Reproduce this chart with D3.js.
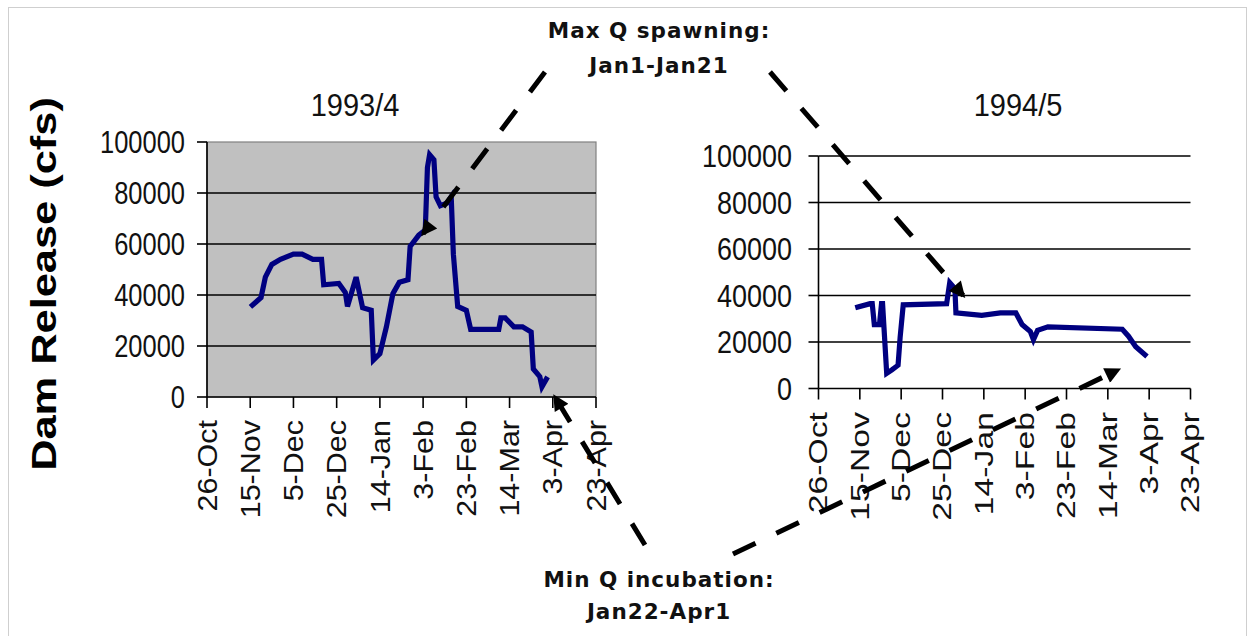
<!DOCTYPE html>
<html><head><meta charset="utf-8">
<script src="https://cdn.jsdelivr.net/npm/d3@7"></script>
<style>body{margin:0;background:#fff;overflow:hidden}</style>
</head><body><svg id="c" width="1253" height="636"></svg>
<script>
// ---------- data ----------
const tickDays = [0,20,40,60,80,100,120,140,160,180];           // days after 26-Oct
const tickLabels = ["26-Oct","15-Nov","5-Dec","25-Dec","14-Jan","3-Feb","23-Feb","14-Mar","3-Apr","23-Apr"];
const yTicks = [0,20000,40000,60000,80000,100000];
const panelTitles = ["1993/4","1994/5"];
const yTitle = "Dam Release (cfs)";

const days9394 = [21,25,27,30,34,40,44,49,53,54,61,64,65,69,72,76,77,80,83,86,89,93,94,98,101,102,103,105,106,108,111,113,114,116,120,122,135,136,138,142,146,150,151,154,155,157];
const flow9394 = [36000,39000,47000,52000,54000,56000,56000,54000,54000,44000,44500,41000,35500,47000,35000,34000,14500,17000,27500,40500,45000,46000,59000,63500,65500,90000,95000,93000,78500,75000,76000,78500,56000,35500,34000,26500,26500,31000,31000,27500,27500,25500,11000,8000,4000,7000];

const days9495 = [19,25,26,27,29.5,30.5,31,33,35.5,38.5,39.5,41,62,63.5,66,66.5,79,88,95.5,98.5,102.5,104,106,111,147,150,153.5,158];
const flow9495 = [35000,36500,36500,27500,27500,36500,36500,6500,8000,10000,22000,36000,36500,45500,43000,32500,31500,32500,32500,27500,24500,21000,25000,26500,25500,22500,18000,14500];

const noteMax = ["Max Q spawning:","Jan1-Jan21"];
const noteMin = ["Min Q incubation:","Jan22-Apr1"];
// arrow targets in data space: [panel, day, flow]
const maxTargets = [[0,100,64000],[1,70,40000]];
const minTargets = [[0,161,0],[1,145,8000]];

// ---------- layout ----------
const svg = d3.select("#c");
svg.append("rect").attr("x",8.5).attr("y",7.5).attr("width",1238).attr("height",640)
  .attr("fill","#fff").attr("stroke","#cfcfcf");

const panels = [
  {x0:207,x1:596,y0:397,y1:142,bg:"#c0c0c0",border:"#808080",gridFrom:1,gridTo:4,
   yl:{x:185,f:26,sx:0.98,sy:1.18}, xl:{top:420,f:27,s:1.13}, title:{x:355,y:116},
   days:days9394, flow:flow9394},
  {x0:818.5,x1:1190.5,y0:388.5,y1:156,bg:"none",border:"none",gridFrom:1,gridTo:5,
   yl:{x:792,f:27,sx:1.0,sy:1.15}, xl:{top:412,f:25,s:1.35}, title:{x:1018,y:116},
   days:days9495, flow:flow9495}
];

function stext(g, str, x, y, o){
  return g.append("text")
    .attr("transform",`translate(${x},${y}) rotate(${o.rot||0}) scale(${o.sx||1},${o.sy||1})`)
    .attr("text-anchor",o.anchor||"start")
    .attr("font-family",o.family||"'Liberation Sans', Arial, sans-serif")
    .attr("font-size",o.f)
    .attr("font-weight",o.weight||"normal")
    .attr("letter-spacing",o.ls||0)
    .attr("fill",o.fill||"#111")
    .text(str);
}

panels.forEach((p,i)=>{
  const g = svg.append("g");
  const x = d3.scaleLinear().domain([0,180]).range([p.x0,p.x1]);
  const y = d3.scaleLinear().domain([0,100000]).range([p.y0,p.y1]);
  p.x = x; p.y = y;
  if(p.bg!=="none"){
    g.append("rect").attr("x",p.x0).attr("y",p.y1).attr("width",p.x1-p.x0).attr("height",p.y0-p.y1)
      .attr("fill",p.bg).attr("stroke",p.border).attr("stroke-width",1.2);
  }
  // gridlines
  yTicks.slice(p.gridFrom,p.gridTo+1).forEach(v=>{
    g.append("line").attr("x1",p.x0).attr("x2",p.x1).attr("y1",y(v)).attr("y2",y(v))
      .attr("stroke","#000").attr("stroke-width",1.6);
  });
  // axes lines
  g.append("line").attr("x1",p.x0).attr("x2",p.x0).attr("y1",p.y0).attr("y2",y(100000))
    .attr("stroke","#000").attr("stroke-width",1.6);
  g.append("line").attr("x1",p.x0).attr("x2",p.x1).attr("y1",p.y0).attr("y2",p.y0)
    .attr("stroke","#000").attr("stroke-width",1.6);
  // y ticks + labels
  yTicks.forEach(v=>{
    g.append("line").attr("x1",p.x0-10).attr("x2",p.x0).attr("y1",y(v)).attr("y2",y(v))
      .attr("stroke","#000").attr("stroke-width",1.6);
    const o = p.yl;
    stext(g, String(v), o.x, y(v)+0.716*o.f*o.sy/2, {f:o.f,sx:o.sx,sy:o.sy,anchor:"end"});
  });
  // x ticks + labels
  tickDays.forEach((d,k)=>{
    g.append("line").attr("x1",x(d)).attr("x2",x(d)).attr("y1",p.y0).attr("y2",p.y0+11)
      .attr("stroke","#000").attr("stroke-width",1.6);
    const o = p.xl;
    stext(g, tickLabels[k], x(d)+0.716*o.f/2, o.top, {f:o.f,rot:-90,sx:o.s,anchor:"end"});
  });
  // title
  stext(g, panelTitles[i], p.title.x, p.title.y, {f:29,sy:1.08,anchor:"middle"});
  // series
  const pts = p.days.map((d,k)=>[d,p.flow[k]]);
  g.append("path").datum(pts)
    .attr("d", d3.line().x(d=>x(d[0])).y(d=>y(d[1])))
    .attr("fill","none").attr("stroke","#000080").attr("stroke-width",5.2)
    .attr("stroke-linejoin","miter").attr("stroke-linecap","square");
});

// y-axis title
stext(svg, yTitle, 56, 284, {f:35,rot:-90,sx:1.24,anchor:"middle",weight:"bold",fill:"#000"});

// annotations
const defs = svg.append("defs");
defs.append("marker").attr("id","arr").attr("viewBox","0 0 10 10").attr("refX",8).attr("refY",5)
  .attr("markerWidth",18).attr("markerHeight",16).attr("markerUnits","userSpaceOnUse")
  .attr("orient","auto")
  .append("path").attr("d","M0,0 L10,5 L0,10 z").attr("fill","#000");

const noteFont = {family:"'DejaVu Sans', Verdana, sans-serif", weight:"bold", f:21.5, ls:1, anchor:"middle", fill:"#111"};
stext(svg, noteMax[0], 659, 38, noteFont);
stext(svg, noteMax[1], 659, 73, noteFont);
stext(svg, noteMin[0], 659, 587, noteFont);
stext(svg, noteMin[1], 659, 619, noteFont);

const maxStarts = [[545,72],[770,72]];
const minStarts = [[645,545],[733,554]];
function arrow(start, t){
  const p = panels[t[0]];
  svg.append("line").attr("x1",start[0]).attr("y1",start[1])
    .attr("x2",p.x(t[1])).attr("y2",p.y(t[2]))
    .attr("stroke","#000").attr("stroke-width",5).attr("stroke-dasharray","25,23")
    .attr("marker-end","url(#arr)");
}
maxTargets.forEach((t,k)=>arrow(maxStarts[k],t));
minTargets.forEach((t,k)=>arrow(minStarts[k],t));
</script></body></html>
